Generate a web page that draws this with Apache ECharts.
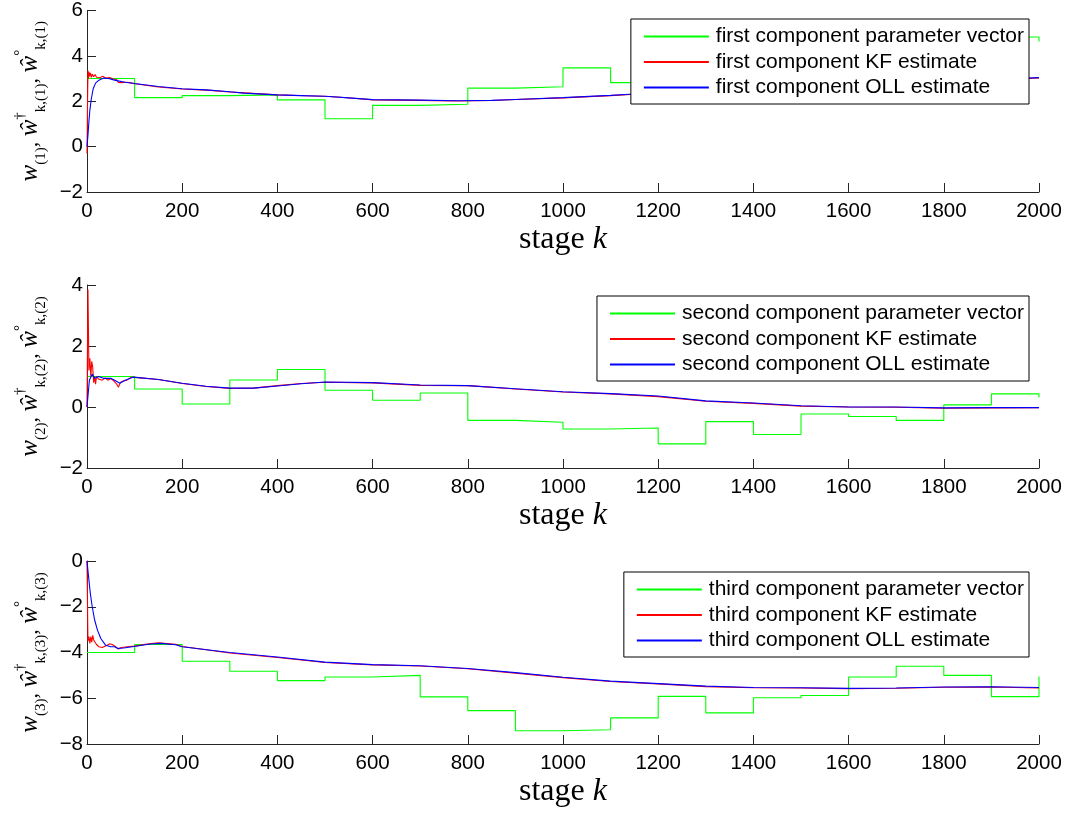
<!DOCTYPE html>
<html>
<head>
<meta charset="utf-8">
<script src="https://cdn.jsdelivr.net/npm/echarts@6/dist/echarts.min.js"></script>
<style>
  html, body { margin: 0; padding: 0; background: #fff; }
  #chart { width: 1070px; height: 814px; }
</style>
</head>
<body>
<div id="chart"></div>
<script>
// stage breakpoints of the piecewise-constant parameter vector
var stageBreaks = [0, 100, 200, 300, 400, 500, 600, 700, 800, 900, 1000,
    1100, 1200, 1300, 1400, 1500, 1600, 1700, 1800, 1900, 2000];

// first component
var param1 = [3.0, 2.16, 2.25, 2.28, 2.06, 1.23, 1.82, 1.87, 2.58, 2.64, 3.47,
    2.82, 3.1, 3.5, 3.9, 4.2, 3.8, 4.4, 4.1, 4.83, 4.63];
var kf1 = [[0, -0.3], [1, 1.7], [2, 3.35], [3, 3.0], [4, 3.3], [5, 3.1], [7, 3.25], [9, 3.05],
    [11, 3.2], [14, 3.08], [17, 3.18], [20, 3.06], [24, 3.14], [28, 3.05], [33, 3.1], [40, 3.02],
    [48, 3.05], [55, 2.98], [62, 2.96], [66, 2.83], [72, 2.82], [80, 2.84], [90, 2.82], [100, 2.77],
    [150, 2.63], [200, 2.54], [260, 2.48], [300, 2.41], [330, 2.37], [400, 2.28], [460, 2.24],
    [510, 2.21], [560, 2.13], [600, 2.06], [700, 2.04], [770, 2.01], [850, 2.03], [900, 2.08],
    [1000, 2.15], [1100, 2.25], [1150, 2.31], [1300, 2.44], [1500, 2.6], [1700, 2.79],
    [1900, 2.94], [2000, 3.03]];
var oll1 = [[0, 0], [2, 0.5], [4, 1.1], [6, 1.6], [9, 2.1], [13, 2.55], [18, 2.8], [25, 2.93],
    [35, 3.02], [45, 3.0], [60, 2.92], [80, 2.84], [100, 2.78], [150, 2.65], [200, 2.55],
    [250, 2.5], [300, 2.42], [330, 2.36], [400, 2.28], [450, 2.25], [500, 2.22], [550, 2.15],
    [600, 2.07], [700, 2.05], [780, 2.02], [850, 2.04], [900, 2.08], [1000, 2.16], [1100, 2.26],
    [1150, 2.32], [1300, 2.45], [1500, 2.6], [1700, 2.8], [1900, 2.95], [2000, 3.04]];

// second component
var param2 = [1.0, 0.59, 0.1, 0.885, 1.23, 0.55, 0.22, 0.46, -0.44, -0.5, -0.72,
    -0.69, -1.21, -0.48, -0.9, -0.23, -0.31, -0.44, 0.07, 0.43, 0.31];
var kf2 = [[0, 0], [1, 2.0], [2, 3.85], [3, 2.6], [4, 1.2], [6, 1.6], [8, 1.0], [10, 1.5],
    [12, 1.3], [14, 0.8], [16, 1.0], [18, 0.75], [20, 1.0], [24, 0.92], [28, 0.98], [32, 0.88],
    [38, 0.95], [44, 0.88], [50, 0.93], [56, 0.86], [62, 0.76], [66, 0.65], [70, 0.8], [76, 0.85],
    [84, 0.88], [92, 0.97], [100, 0.97], [150, 0.9], [200, 0.77], [250, 0.67], [300, 0.61],
    [350, 0.62], [400, 0.7], [450, 0.77], [500, 0.81], [600, 0.79], [700, 0.71], [800, 0.7],
    [900, 0.59], [1000, 0.49], [1100, 0.43], [1200, 0.34], [1300, 0.19], [1400, 0.12],
    [1500, 0.03], [1600, 0.0], [1700, -0.01], [1800, -0.04], [1900, -0.03], [2000, -0.02]];
var oll2 = [[0, 0], [5, 0.88], [11, 1.08], [16, 0.94], [24, 1.0], [35, 0.94], [50, 0.94],
    [58, 0.88], [69, 0.78], [80, 0.88], [95, 0.97], [103, 0.97], [150, 0.9], [200, 0.78],
    [250, 0.68], [300, 0.62], [350, 0.62], [400, 0.69], [450, 0.76], [500, 0.82], [600, 0.8],
    [700, 0.72], [800, 0.7], [900, 0.6], [1000, 0.5], [1100, 0.44], [1200, 0.36], [1300, 0.2],
    [1400, 0.13], [1500, 0.04], [1600, 0.0], [1700, 0.0], [1800, -0.03], [1900, -0.02],
    [2000, -0.02]];

// third component
var param3 = [-4.0, -3.65, -4.38, -4.82, -5.23, -5.07, -5.0, -5.94, -6.54, -7.42, -7.38,
    -6.86, -5.92, -6.64, -5.98, -5.88, -5.07, -4.6, -5.0, -5.93, -5.05];
var kf3 = [[0, 0], [1, -1.8], [2, -3.5], [4, -3.3], [6, -3.6], [8, -3.3], [10, -3.55],
    [12, -3.25], [14, -3.45], [17, -3.4], [20, -3.65], [25, -3.75], [32, -3.78], [40, -3.7],
    [48, -3.62], [54, -3.66], [60, -3.75], [66, -3.85], [72, -3.78], [80, -3.76], [90, -3.74],
    [100, -3.72], [130, -3.62], [150, -3.58], [186, -3.64], [200, -3.74], [300, -4.02],
    [400, -4.22], [500, -4.44], [600, -4.54], [700, -4.59], [800, -4.71], [900, -4.9],
    [1000, -5.1], [1100, -5.27], [1200, -5.37], [1300, -5.49], [1400, -5.54], [1500, -5.55],
    [1600, -5.58], [1700, -5.56], [1800, -5.52], [1900, -5.51], [2000, -5.55]];
var oll3 = [[0, 0], [4, -0.83], [7, -1.42], [11, -2.0], [16, -2.58], [22, -3.02], [29, -3.39],
    [39, -3.68], [50, -3.75], [58, -3.75], [65, -3.82], [77, -3.8], [95, -3.75], [133, -3.63],
    [156, -3.6], [186, -3.66], [200, -3.75], [300, -4.0], [400, -4.2], [500, -4.42],
    [600, -4.53], [700, -4.58], [800, -4.7], [900, -4.88], [1000, -5.08], [1100, -5.25],
    [1200, -5.36], [1300, -5.47], [1400, -5.53], [1500, -5.54], [1600, -5.57], [1700, -5.55],
    [1800, -5.51], [1900, -5.5], [2000, -5.53]];

var yRanges = [[-2, 6], [-2, 4], [-8, 0]];
var legendNames = [
    ['first component parameter vector', 'first component KF estimate', 'first component OLL estimate'],
    ['second component parameter vector', 'second component KF estimate', 'second component OLL estimate'],
    ['third component parameter vector', 'third component KF estimate', 'third component OLL estimate']
];
var legendTops = [19, 296, 572];
var gridTops = [9, 285, 561];

function stepData(values) {
    return stageBreaks.map(function (k, i) { return [k, values[i]]; });
}

var axisColor = '#262626';
var sans = 'Liberation Sans';
var serif = 'Liberation Serif';

// y-axis name as rich text: w_(n), w^dagger_k,(n), w^circ_k,(n)
function yName(n) {
    return '{m|w}{b|(' + n + ')}{c|, }{m|ŵ}{t|†}{b|k,(' + n + ')}{c|, }{m|ŵ}{t|°}{b|k,(' + n + ')}';
}
var yRich = {
    m: { fontFamily: serif, fontStyle: 'italic', fontSize: 25, lineHeight: 36, color: '#000' },
    c: { fontFamily: serif, fontSize: 22, lineHeight: 36, color: '#000' },
    b: { fontFamily: serif, fontSize: 15, lineHeight: 15, verticalAlign: 'bottom', color: '#000' },
    t: { fontFamily: serif, fontSize: 15, lineHeight: 15, verticalAlign: 'top', color: '#000' }
};

var grids = [], xAxes = [], yAxes = [], legends = [], series = [];
var paramSets = [param1, param2, param3];
var kfSets = [kf1, kf2, kf3];
var ollSets = [oll1, oll2, oll3];

for (var i = 0; i < 3; i++) {
    grids.push({ left: 87, right: 31, top: gridTops[i], height: 183 });
    xAxes.push({
        type: 'value', gridIndex: i, min: 0, max: 2000, interval: 200,
        name: '{r|stage }{i|k}', nameLocation: 'middle', nameGap: 32,
        nameTextStyle: {
            rich: {
                r: { fontFamily: serif, fontSize: 32, color: '#000' },
                i: { fontFamily: serif, fontStyle: 'italic', fontSize: 32, color: '#000' }
            }
        },
        axisLine: { onZero: false, lineStyle: { color: axisColor, width: 1 } },
        axisTick: { inside: true, length: 9, lineStyle: { color: axisColor } },
        axisLabel: {
            fontFamily: sans, fontSize: 20.5, color: '#000', margin: 9,
            formatter: function (v) { return String(v); }
        },
        splitLine: { show: false }
    });
    yAxes.push({
        type: 'value', gridIndex: i, min: yRanges[i][0], max: yRanges[i][1], interval: 2,
        name: yName(i + 1), nameLocation: 'middle', nameRotate: 90, nameGap: 34,
        nameTextStyle: { rich: yRich },
        axisLine: { onZero: false, lineStyle: { color: axisColor, width: 1 } },
        axisTick: { inside: true, length: 9, lineStyle: { color: axisColor } },
        axisLabel: {
            fontFamily: sans, fontSize: 20.5, color: '#000', margin: 4,
            formatter: function (v) { return v < 0 ? '\u2212' + Math.abs(v) : String(v); }
        },
        splitLine: { show: false }
    });
    legends.push({
        orient: 'vertical', right: 41, top: legendTops[i],
        icon: 'rect', itemWidth: 65, itemHeight: 2, itemGap: 4.5,
        padding: [7, 5, 6, 13],
        borderColor: '#000', borderWidth: 1, backgroundColor: '#fff',
        selectedMode: false,
        textStyle: { fontFamily: sans, fontSize: 21, lineHeight: 21, color: '#000', padding: [0, 0, 0, 2] },
        data: legendNames[i]
    });
    series.push({
        name: legendNames[i][0], type: 'line', xAxisIndex: i, yAxisIndex: i,
        data: stepData(paramSets[i]), step: 'end', symbol: 'none',
        lineStyle: { color: '#00ff00', width: 1.1 }, itemStyle: { color: '#00ff00' }
    });
    series.push({
        name: legendNames[i][1], type: 'line', xAxisIndex: i, yAxisIndex: i,
        data: kfSets[i], symbol: 'none',
        lineStyle: { color: '#ff0000', width: 1.1 }, itemStyle: { color: '#ff0000' }
    });
    series.push({
        name: legendNames[i][2], type: 'line', xAxisIndex: i, yAxisIndex: i,
        data: ollSets[i], symbol: 'none',
        lineStyle: { color: '#0000ff', width: 1.1 }, itemStyle: { color: '#0000ff' }
    });
}

var chart = echarts.init(document.getElementById('chart'));
chart.setOption({
    animation: false,
    backgroundColor: '#fff',
    grid: grids,
    xAxis: xAxes,
    yAxis: yAxes,
    legend: legends,
    series: series
});
</script>
</body>
</html>
